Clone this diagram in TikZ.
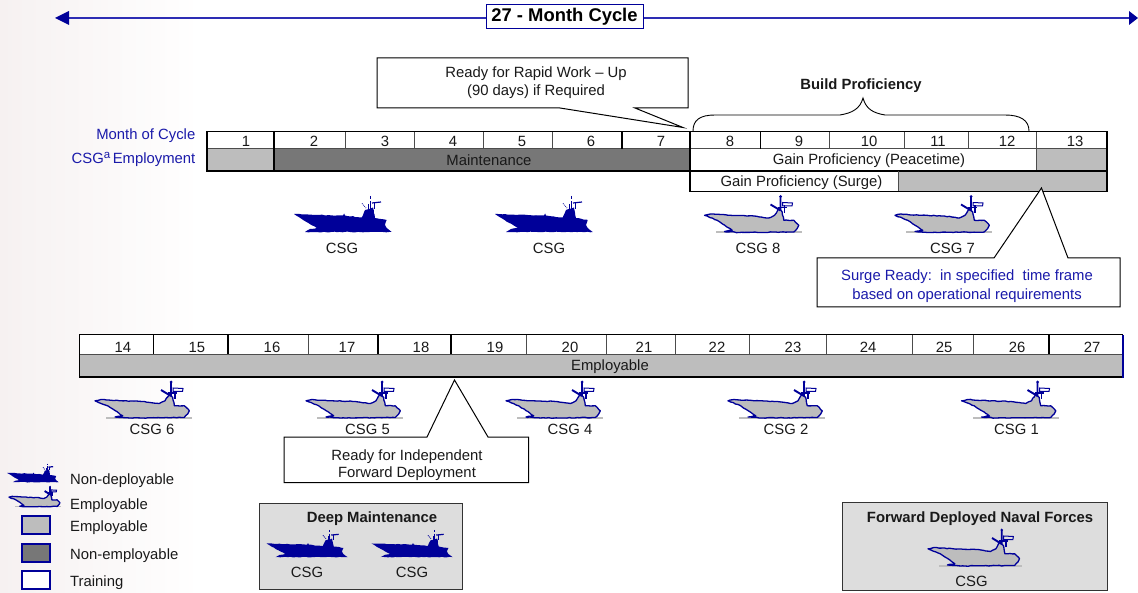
\documentclass[tikz,border=0pt]{standalone}
\usepackage{fontspec}
\setmainfont{Liberation Sans}
\usetikzlibrary{decorations.pathmorphing}
\definecolor{navy}{RGB}{0,0,153}
\definecolor{shaft}{RGB}{45,45,180}
\definecolor{txtblue}{RGB}{26,26,170}
\definecolor{emp}{RGB}{189,189,189}
\definecolor{nonemp}{RGB}{119,119,119}
\definecolor{panel}{RGB}{221,221,221}
\definecolor{bgtint}{RGB}{246,241,241}
\tikzset{
 lbl/.style={inner sep=0pt,font=\fontsize{14.85}{15}\selectfont,text=black!90,yshift=-.5pt},
 blbl/.style={lbl,text=txtblue},
 bold/.style={lbl,font=\fontsize{14.85}{15}\selectfont\bfseries},
 call/.style={draw=black,line width=1pt,fill=white,line join=miter},
 barline/.style={draw=black,line width=1.2pt},
 tick/.style={draw=black!70,line width=1pt},
 rough/.style={decorate,decoration={random steps,segment length=2.6pt,amplitude=.35pt}}
}
\newcommand{\darkship}[4]{%
\begin{scope}[shift={(#1,#2)},xscale=#3,yscale=#4]
\fill[navy,rough] (0,19) -- (22.7,19.8) -- (49,20.5) -- (50,18.5) -- (51,20.5) -- (67.7,22.5) -- (71,15) -- (79,12.5) -- (81,23) -- (92.7,25) -- (91,30) -- (92.7,33) -- (97.7,37) -- (11,37) -- (16,34) -- (22.7,33) -- (14.3,28) -- cycle;
\draw[navy,line width=.9pt] (76,1) -- (76,4) (76,6) -- (76,14);
\draw[navy,line width=.8pt,densely dotted] (68,8.5) -- (72,13);
\draw[navy,line width=1.2pt] (78,8) -- (87,7);
\draw[navy,line width=.8pt] (80,8) -- (80,14) (74,9) -- (74,14);
\end{scope}}
\newcommand{\greyship}[4]{%
\begin{scope}[shift={(#1,#2)},xscale=#3,yscale=#4]
\fill[emp] (11,35.8) rectangle (97,37.6);
\draw[navy,fill=emp,line width=1.3pt,rough,line join=round] (0,19.8) -- (6,18.5) -- (26,19.8) -- (49.3,20.5) -- (64.3,22.5) -- (70,19.8) -- (74.3,13) -- (77.7,16.5) -- (79.3,24.8) -- (89.3,24.8) -- (94.3,29.8) -- (92.7,33) -- (89.3,36.5) -- (34.3,37) -- (20,36) -- (27.7,34.8) -- (24.3,32.5) -- (12.7,24.8) -- cycle;
\draw[navy,line width=1.9pt] (76,1) -- (76,15) (66,9) -- (76,15);
\draw[navy,line width=1pt] (78,7) -- (88,7.5) -- (87.5,10.5) -- (78,10.5) -- cycle;
\draw[navy,line width=1.9pt] (80,10) -- (80,18) (73,12) -- (82,12);
\fill[navy] (76,1) circle (1.5);
\end{scope}}
\begin{document}
\begin{tikzpicture}[x=1pt,y=-1pt]
\useasboundingbox (0,0) rectangle (1138,593);
% faint background
\fill[left color=bgtint,right color=white] (0,0) rectangle (200,593);
% top arrow
\node[draw=navy,line width=1pt,fill=white,minimum width=157pt,minimum height=24pt,inner sep=0pt,font=\fontsize{18.4}{20}\selectfont\bfseries] (cycle) at (564.5,17) {27 - Month Cycle};
\coordinate (al) at (55,18); \coordinate (ar) at (1138,18);
\draw[shaft,line width=1.3pt] (cycle.west|-al) -- (69,18);
\fill[navy] (al) -- (69,11) -- (69,25) -- cycle;
\draw[shaft,line width=1.3pt] (cycle.east|-ar) -- (1130,18);
\fill[navy] (ar) -- (1129,11) -- (1129,25) -- cycle;
% callout 1
\coordinate (c1tip) at (683,127.5);
\draw[call] (377,58) -- (688,58) -- (688,108) -- (635,108) -- (c1tip) -- (560,108) -- (377,108) -- cycle;
\node[lbl,align=center] (c1) at (536,82.5) {Ready for Rapid Work – Up\\[3pt](90 days) if Required};
% brace
\node[bold] (bp) at (861,85) {Build Proficiency};
\draw[black,line width=.9pt] (693,131) .. controls (693,120) and (700,115) .. (715,115) -- (840,115) .. controls (852,113) and (860,109) .. (863,98) .. controls (866,109) and (873,113) .. (885,115) -- (1005,115) .. controls (1020,115) and (1029,120) .. (1029,131);
% bar 1
\fill[white] (207,132) rectangle (1107,149);
\fill[emp] (207,149) rectangle (274,171);
\fill[nonemp] (274,149) rectangle (690,171);
\fill[white] (690,149) rectangle (1036,171);
\fill[emp] (1036,149) rectangle (1107,171);
\fill[white] (690,171) rectangle (898,191.5);
\fill[emp] (898,171) rectangle (1107,191.5);
\foreach \x in {345.5,414,483.6,552,622,760.5,829,904,968} \draw[tick] (\x,132) -- (\x,149);
\draw[tick] (207,149) -- (1107,149);
\draw[barline] (274,131) -- (274,171);
\draw[barline] (622,132) -- (622,149) (760.5,132) -- (760.5,149);
\draw[tick] (1036,132) -- (1036,171);
\draw[barline] (207,131.5) rectangle (1107,171);
\draw[barline] (690,131.5) -- (690,191.5) -- (1107,191.5) -- (1107,171);
\draw[tick] (898,171) -- (898,191.5);
\foreach \n/\x in {1/246,2/314,3/385,4/453,5/522,6/591,7/661,8/730,9/799,10/869,11/938,12/1007,13/1075}
  \node[lbl] (m\n) at (\x,141) {\n};
\node[lbl] (maint) at (489,160) {Maintenance};
\node[lbl] (peace) at (869,160) {Gain Proficiency (Peacetime)};
\node[lbl] (surge) at (801.5,182) {Gain Proficiency (Surge)};
\node[blbl,anchor=east] (moc) at (195.5,135) {Month of Cycle};
\node[blbl,anchor=east] (emp1) at (195.5,159) {CSG\raisebox{5.5pt}{\fontsize{11.5}{12}\selectfont a}\,Employment};
% row 1 ships
\darkship{294}{195}{1}{1}
\darkship{495}{195}{1}{1}
\greyship{704.5}{195.5}{1}{1}
\greyship{895}{195.5}{1}{1}
\node[lbl] (s1) at (342,248) {CSG};
\node[lbl] (s2) at (549,248) {CSG};
\node[lbl] (s3) at (758,248) {CSG 8};
\node[lbl] (s4) at (952.5,248) {CSG 7};
% callout 2
\coordinate (c2tip) at (1041.5,188);
\draw[call] (817,258) -- (994,258) -- (c2tip) -- (1068,258) -- (1120,258) -- (1120,307) -- (817,307) -- cycle;
\node[blbl,align=center] (c2) at (967,285.5) {Surge Ready:\ \ in specified\ \ time frame\\[3.8pt]based on operational requirements};
% bar 2
\fill[white] (79,335) rectangle (1123,355);
\fill[emp] (79,355) rectangle (1123,377);
\foreach \x in {308,526,606,675,749,826,912,973} \draw[tick] (\x,335) -- (\x,355);
\foreach \x in {153.5,228,378,451,1049} \draw[barline] (\x,335) -- (\x,355);
\draw[tick] (79,355) -- (1123,355);
\draw[black,line width=1pt] (79,377) -- (79,335) -- (1123,335);
\draw[black,line width=2.2pt] (79,377) -- (1124,377);
\draw[navy,line width=1.2pt] (1123,335) -- (1123,378);
\foreach \n/\x in {14/123,15/197,16/272,17/347,18/421,19/495,20/570,21/644,22/717,23/793,24/868,25/944,26/1017,27/1092}
  \node[lbl] (m\n) at (\x,346.5) {\n};
\node[lbl] (empl) at (610,366) {Employable};
% row 2 ships
\greyship{95}{381}{1}{1}
\greyship{306}{381}{1}{1}
\greyship{506}{381}{1}{1}
\greyship{728}{381}{1}{1}
\greyship{961.5}{381}{1}{1}
\node[lbl] (s6) at (152,429) {CSG 6};
\node[lbl] (s5) at (367.5,429) {CSG 5};
\node[lbl] (s7) at (570,429) {CSG 4};
\node[lbl] (s8) at (786,429) {CSG 2};
\node[lbl] (s9) at (1016.5,429) {CSG 1};
% callout 3
\coordinate (c3tip) at (454.5,380);
\draw[call] (284,437) -- (427,437) -- (c3tip) -- (488,437) -- (528.5,437) -- (528.5,482.5) -- (284,482.5) -- cycle;
\node[lbl,align=center] (c3) at (407,464.5) {Ready for Independent\\[2.2pt]Forward Deployment};
% deep maintenance
\draw[draw=black!80,line width=1pt,fill=panel] (259,503) rectangle (462,589);
\node[bold] (dm) at (372,518) {Deep Maintenance};
\darkship{266.5}{529}{.83}{.76}
\darkship{371.5}{529}{.83}{.76}
\node[lbl] (d1) at (307,572) {CSG};
\node[lbl] (d2) at (412,572) {CSG};
% FDNF
\draw[draw=black!80,line width=1pt,fill=panel] (842,502) rectangle (1107,590.5);
\node[bold] (fd) at (980,518) {Forward Deployed Naval Forces};
\greyship{928}{529}{.97}{1}
\node[lbl] (f1) at (971.5,581) {CSG};
% legend
\darkship{7}{463}{.53}{.52}
\greyship{9}{486}{.54}{.56}
\node[draw=navy,line width=1.2pt,fill=emp,minimum width=28pt,minimum height=18pt,inner sep=0pt] (k1) at (36,525) {};
\node[draw=navy,line width=1.2pt,fill=nonemp,minimum width=28pt,minimum height=18pt,inner sep=0pt] (k2) at (36,553) {};
\node[draw=navy,line width=1.2pt,fill=white,minimum width=28pt,minimum height=18pt,inner sep=0pt] (k3) at (36,580) {};
\node[lbl,anchor=west] (l1) at (70,480) {Non-deployable};
\node[lbl,anchor=west] (l2) at (70,505) {Employable};
\node[lbl,anchor=west] (l3) at (70,527) {Employable};
\node[lbl,anchor=west] (l4) at (70,555) {Non-employable};
\node[lbl,anchor=west] (l5) at (70,582) {Training};
\end{tikzpicture}
\end{document}
